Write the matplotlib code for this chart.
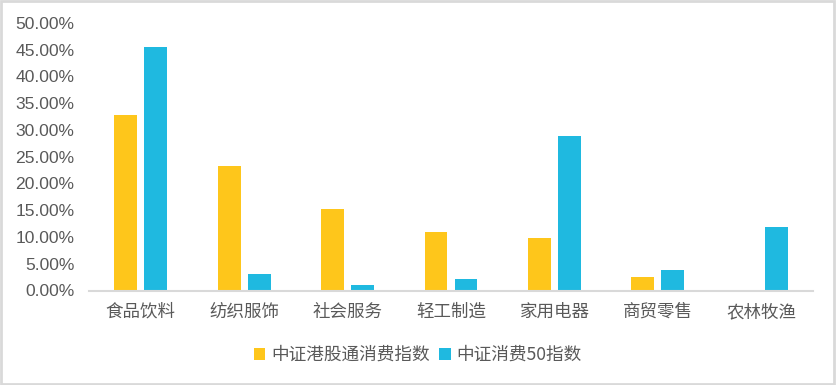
import numpy as np
import matplotlib.pyplot as plt
from matplotlib.ticker import FuncFormatter

plt.rcParams["font.family"] = ["Noto Sans CJK SC", "DejaVu Sans"]

categories = ["食品饮料", "纺织服饰", "社会服务", "轻工制造", "家用电器", "商贸零售", "农林牧渔"]
hk_consumer = [32.8, 23.3, 15.2, 10.9, 9.8, 2.5, 0.0]
csi_consumer50 = [45.5, 3.1, 1.0, 2.1, 28.9, 3.8, 11.9]
series_names = ["中证港股通消费指数", "中证消费50指数"]

c_orange = "#FEC61B"
c_blue = "#1FB9E0"
grey_txt = "#595959"

fig = plt.figure(figsize=(8.36, 3.85), dpi=100)
ax = fig.add_axes([89/836, 1 - 290.5/385, (813 - 89)/836, (290.5 - 23)/385])

x = np.arange(len(categories))
w = 0.222
off = 0.145
ax.bar(x - off, hk_consumer, w, color=c_orange, label=series_names[0])
ax.bar(x + off, csi_consumer50, w, color=c_blue, label=series_names[1])

ax.set_xlim(-0.5, len(categories) - 0.5)
ax.set_ylim(0, 50)
ax.set_yticks(np.arange(0, 50.1, 5))
ax.yaxis.set_major_formatter(FuncFormatter(lambda v, p: f"{v:.2f}%"))
ax.set_xticks(x)
ax.set_xticklabels(categories)

for s in ["top", "right", "left"]:
    ax.spines[s].set_visible(False)
ax.spines["bottom"].set_color("#d9d9d9")
ax.spines["bottom"].set_linewidth(1.5)
ax.tick_params(axis="both", length=0, colors=grey_txt)
ax.tick_params(axis="y", labelsize=12.6, pad=10.5)
ax.tick_params(axis="x", labelsize=12.6, pad=9)
for t in ax.get_yticklabels():
    t.set_family(["Liberation Sans", "DejaVu Sans"])

leg = fig.legend(loc="center", bbox_to_anchor=(418/836, 1 - 355/385), ncol=2,
                 frameon=False, fontsize=12.7, handlelength=0.65, handleheight=0.65,
                 handletextpad=0.35, columnspacing=0.5)
for t in leg.get_texts():
    t.set_color(grey_txt)

# outer frame
fig.patches.append(plt.Rectangle((0.001, 0.002), 0.997, 0.995, transform=fig.transFigure,
                                 fill=False, edgecolor="#d9d9d9", linewidth=2))

plt.savefig("out.png", dpi=100)
plt.close()
